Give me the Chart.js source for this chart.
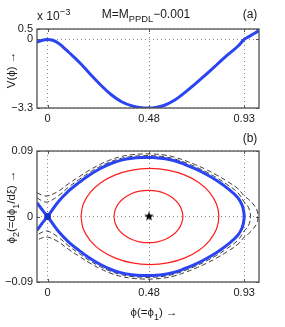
<!DOCTYPE html>
<html>
<head>
<meta charset="utf-8">
<script src="https://cdn.jsdelivr.net/npm/chart.js@4.4.1/dist/chart.umd.min.js"></script>
<style>
  html, body { margin: 0; padding: 0; background: #fff; }
  #wrap { position: relative; width: 285px; height: 327px; }
  canvas { position: absolute; left: 0; }
  #topChart { top: 0; width: 285px; height: 135px; }
  #botChart { top: 128px; width: 285px; height: 199px; }
</style>
</head>
<body>
<div id="wrap">
  <canvas id="topChart" width="285" height="135"></canvas>
  <canvas id="botChart" width="285" height="199"></canvas>
</div>
<script>
// ---- data ----
// shared x ticks
const xTickVals = [0, 0.48, 0.93];
const xTickText = ['0', '0.48', '0.93'];

// panel (a): V(phi), in units of 1e-3
const topYTickVals = [0.5, 0, -3.3];
const topYTickText = ['0.5', '0', '\u22123.3'];
const phiV = [-0.05, -0.025, 0, 0.025, 0.05, 0.075, 0.1, 0.15, 0.2, 0.25, 0.3, 0.35, 0.4, 0.45, 0.48, 0.5, 0.55, 0.6, 0.65, 0.7, 0.75, 0.8, 0.85, 0.9, 0.93, 0.95, 1.0];
const potV = [-0.14, -0.04, 0, -0.04, -0.17, -0.38, -0.62, -1.1, -1.65, -2.18, -2.65, -3.0, -3.2, -3.29, -3.3, -3.29, -3.18, -2.93, -2.55, -2.13, -1.68, -1.22, -0.76, -0.33, 0, 0.12, 0.42];

// panel (b): phase portrait, upper halves (lower halves are the mirror)
const botYTickVals = [0.09, 0, -0.09];
const botYTickText = ['0.09', '0', '\u22120.09'];

// separatrix (blue)
const phiSep = [-0.05, -0.025, 0, 0.05, 0.1, 0.15, 0.2, 0.25, 0.3, 0.35, 0.4, 0.45, 0.48, 0.5, 0.55, 0.6, 0.65, 0.7, 0.75, 0.8, 0.85, 0.9, 0.92, 0.927, 0.93];
const sepUp = [-0.019, -0.009, 0, 0.020, 0.0352, 0.0469, 0.0574, 0.066, 0.0728, 0.0775, 0.080, 0.0811, 0.0812, 0.0811, 0.0797, 0.0766, 0.0714, 0.0653, 0.058, 0.0494, 0.039, 0.0257, 0.0155, 0.008, 0];

// closed orbits (red)
const phiInner = [0.314, 0.320, 0.336, 0.362, 0.396, 0.435, 0.477, 0.519, 0.558, 0.592, 0.618, 0.634, 0.640];
const innerUp = [0, 0.0093, 0.018, 0.0255, 0.0312, 0.0348, 0.036, 0.0348, 0.0312, 0.0255, 0.018, 0.0093, 0];
const phiOuter = [0.158, 0.169, 0.202, 0.253, 0.321, 0.400, 0.484, 0.568, 0.647, 0.715, 0.766, 0.799, 0.810];
const outerUp = [0, 0.0171, 0.033, 0.0467, 0.0572, 0.0638, 0.066, 0.0638, 0.0572, 0.0467, 0.033, 0.0171, 0];

// open orbits just outside the separatrix (black dashed)
const phiDashA = [-0.05, -0.025, 0, 0.05, 0.1, 0.15, 0.2, 0.25, 0.3, 0.35, 0.4, 0.45, 0.48, 0.5, 0.55, 0.6, 0.65, 0.7, 0.75, 0.8, 0.85, 0.9, 0.93, 0.95, 0.96];
const dashAUp = [0.0257, 0.0214, 0.02, 0.0283, 0.0405, 0.051, 0.0608, 0.069, 0.0755, 0.08, 0.0825, 0.0835, 0.0837, 0.0835, 0.0822, 0.0791, 0.0742, 0.0683, 0.0613, 0.0533, 0.0438, 0.0326, 0.02, 0.0126, 0];
const phiDashB = [-0.05, -0.025, 0, 0.05, 0.1, 0.15, 0.2, 0.25, 0.3, 0.35, 0.4, 0.45, 0.48, 0.5, 0.55, 0.6, 0.65, 0.7, 0.75, 0.8, 0.85, 0.9, 0.93, 0.95, 0.97, 0.99, 0.995];
const dashBUp = [0.0326, 0.0293, 0.0283, 0.0346, 0.0452, 0.0548, 0.064, 0.0718, 0.0781, 0.0825, 0.0849, 0.0859, 0.086, 0.0859, 0.0846, 0.0816, 0.0768, 0.0711, 0.0645, 0.0569, 0.0482, 0.0382, 0.0283, 0.0237, 0.0179, 0.0089, 0];

// fixed points
const centerPt = [0.48, 0];
const saddlePt = [0, 0];

// ---- helpers ----
const FONT = '"Liberation Sans", Arial, Helvetica, sans-serif';
const BLUE = '#2b44f2';
const RED = '#ff1e1e';

// upper half left->right, then lower half right->left
function loop(xs, ups) {
  const pts = xs.map((x, i) => ({ x: x, y: ups[i] }));
  for (let i = xs.length - 2; i >= 0; i--) {
    pts.push({ x: xs[i], y: -ups[i] });
  }
  return pts;
}

function pairs(xs, ys) {
  return xs.map((x, i) => ({ x: x, y: ys[i] }));
}

function starImage(r) {
  const c = document.createElement('canvas');
  c.width = c.height = 2 * r + 2;
  const g = c.getContext('2d');
  g.beginPath();
  for (let i = 0; i < 10; i++) {
    const ang = -Math.PI / 2 + i * Math.PI / 5;
    const rr = i % 2 ? r * 0.42 : r;
    g.lineTo(r + 1 + rr * Math.cos(ang), r + 1 + rr * Math.sin(ang));
  }
  g.closePath();
  g.fillStyle = '#000';
  g.fill();
  return c;
}

// text with sub/superscripts: parts = [[text, shift]], shift 1 = sub, -1 = sup
function richText(ctx, parts, x, y, size, align) {
  const fontOf = p => (p[1] ? size * 0.78 : size) + 'px ' + FONT;
  let w = 0;
  parts.forEach(p => { ctx.font = fontOf(p); w += ctx.measureText(p[0]).width; });
  let cx = align === 'center' ? x - w / 2 : (align === 'right' ? x - w : x);
  ctx.textAlign = 'left';
  ctx.textBaseline = 'middle';
  parts.forEach(p => {
    ctx.font = fontOf(p);
    ctx.fillText(p[0], cx, y + p[1] * size * 0.38);
    cx += ctx.measureText(p[0]).width;
  });
}

function pickLabel(vals, texts) {
  return v => {
    const i = vals.findIndex(t => Math.abs(t - v) < 1e-9);
    return i >= 0 ? texts[i] : '';
  };
}

function scaleOpts(min, max, vals, texts, isX) {
  return {
    type: 'linear',
    min: min,
    max: max,
    afterBuildTicks: s => { s.ticks = vals.map(v => ({ value: v })); },
    afterFit: s => { if (isX) s.height = 22; else s.width = 37; },
    ticks: {
      autoSkip: false,
      maxRotation: 0,
      padding: 4,
      color: '#1a1a1a',
      font: { family: FONT, size: 11 },
      callback: pickLabel(vals, texts)
    },
    grid: { color: '#8a8a8a', lineWidth: 1, drawTicks: false },
    border: { display: false, dash: [1, 3] }
  };
}

// box + short inward ticks
const framePlugin = {
  id: 'frame',
  afterDraw(chart) {
    const { ctx, chartArea: a, scales } = chart;
    ctx.save();
    ctx.strokeStyle = '#555';
    ctx.lineWidth = 1;
    ctx.beginPath();
    scales.x.ticks.forEach(t => {
      const px = Math.round(scales.x.getPixelForValue(t.value)) + 0.5;
      ctx.moveTo(px, a.bottom); ctx.lineTo(px, a.bottom - 3);
      ctx.moveTo(px, a.top); ctx.lineTo(px, a.top + 3);
    });
    scales.y.ticks.forEach(t => {
      const py = Math.round(scales.y.getPixelForValue(t.value)) + 0.5;
      ctx.moveTo(a.left, py); ctx.lineTo(a.left + 3, py);
      ctx.moveTo(a.right, py); ctx.lineTo(a.right - 3, py);
    });
    ctx.stroke();
    ctx.lineWidth = 1.3;
    ctx.strokeStyle = '#505050';
    ctx.strokeRect(a.left, a.top, a.right - a.left, a.bottom - a.top);
    ctx.restore();
  }
};

// ---- panel (a) ----
const topText = {
  id: 'topText',
  afterDraw(chart) {
    const ctx = chart.ctx;
    ctx.save();
    ctx.fillStyle = '#1a1a1a';
    richText(ctx, [['x 10', 0], ['\u22123', -1]], 37, 17, 12, 'left');
    richText(ctx, [['M=M', 0], ['PPDL', 1], ['\u22120.001', 0]], 146, 15, 12, 'center');
    richText(ctx, [['(a)', 0]], 250, 15, 12, 'center');
    ctx.translate(12, 70);
    ctx.rotate(-Math.PI / 2);
    richText(ctx, [['V(\u03d5) \u2192', 0]], 0, 0, 11.5, 'center');
    ctx.restore();
  }
};

new Chart(document.getElementById('topChart'), {
  type: 'scatter',
  data: {
    datasets: [{
      data: pairs(phiV, potV),
      showLine: true,
      borderColor: BLUE,
      borderWidth: 3,
      pointRadius: 0,
      tension: 0.4
    }]
  },
  options: {
    responsive: false,
    animation: false,
    layout: { padding: { top: 29, right: 26, bottom: 5, left: 0 } },
    plugins: { legend: { display: false }, tooltip: { enabled: false } },
    scales: {
      x: scaleOpts(-0.05, 1.0, xTickVals, xTickText, true),
      y: scaleOpts(-3.3, 0.5, topYTickVals, topYTickText, false)
    }
  },
  plugins: [framePlugin, topText]
});

// ---- panel (b) ----
const botText = {
  id: 'botText',
  afterDraw(chart) {
    const ctx = chart.ctx;
    ctx.save();
    ctx.fillStyle = '#1a1a1a';
    richText(ctx, [['(b)', 0]], 250, 11, 12, 'center');
    richText(ctx, [['\u03d5(=\u03d5', 0], ['1', 1], [') \u2192', 0]], 154, 185, 11.5, 'center');
    ctx.translate(12, 79);
    ctx.rotate(-Math.PI / 2);
    richText(ctx, [['\u03d5', 0], ['2', 1], ['(=d\u03d5', 0], ['1', 1], ['/d\u03be) \u2192', 0]], 0, 0, 11.5, 'center');
    ctx.restore();
  }
};

const lineStyle = (color, width, dash) => ({
  showLine: true,
  borderColor: color,
  borderWidth: width,
  borderDash: dash,
  pointRadius: 0,
  tension: 0.4,
  fill: false
});

new Chart(document.getElementById('botChart'), {
  type: 'scatter',
  data: {
    datasets: [
      { data: [{ x: centerPt[0], y: centerPt[1] }], pointStyle: starImage(5), pointRadius: 5 },
      { data: [{ x: saddlePt[0], y: saddlePt[1] }], pointStyle: 'circle', pointRadius: 3,
        backgroundColor: '#1c2fc4', borderColor: '#1c2fc4' },
      Object.assign({ data: loop(phiSep, sepUp) }, lineStyle(BLUE, 3, [])),
      Object.assign({ data: loop(phiInner, innerUp) }, lineStyle(RED, 1.2, [])),
      Object.assign({ data: loop(phiOuter, outerUp) }, lineStyle(RED, 1.2, [])),
      Object.assign({ data: loop(phiDashA, dashAUp) }, lineStyle('#222', 0.9, [5, 3])),
      Object.assign({ data: loop(phiDashB, dashBUp) }, lineStyle('#222', 0.9, [5, 3]))
    ]
  },
  options: {
    responsive: false,
    animation: false,
    layout: { padding: { top: 23, right: 26, bottom: 23, left: 0 } },
    plugins: { legend: { display: false }, tooltip: { enabled: false } },
    scales: {
      x: scaleOpts(-0.05, 1.0, xTickVals, xTickText, true),
      y: scaleOpts(-0.09, 0.09, botYTickVals, botYTickText, false)
    }
  },
  plugins: [framePlugin, botText]
});
</script>
</body>
</html>
